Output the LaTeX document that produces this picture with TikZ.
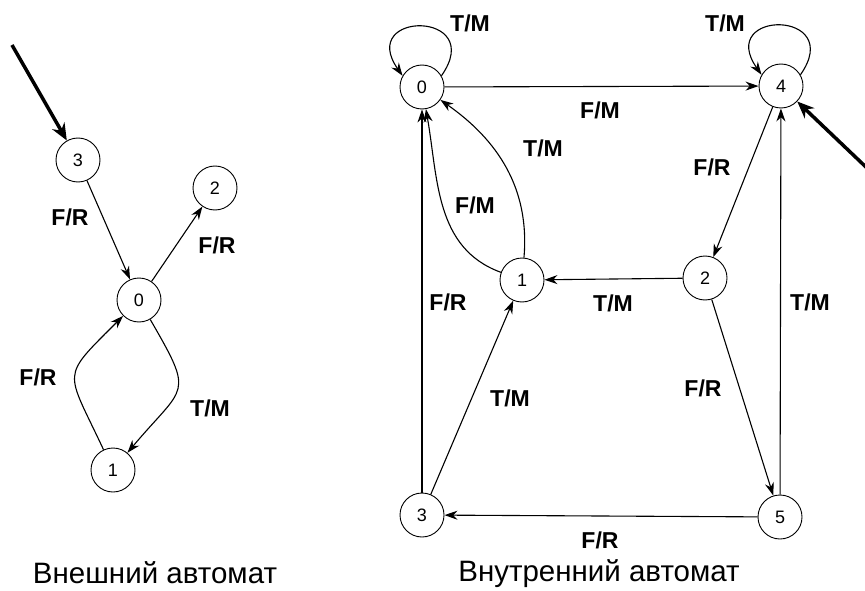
\documentclass[tikz,border=0pt]{standalone}
\usepackage{fontspec}
\setmainfont{Liberation Sans}
\usetikzlibrary{arrows.meta}
\begin{document}
\begin{tikzpicture}[x=1pt, y=1pt, line width=1.1pt,
		state/.style={draw, circle, minimum size=44pt, inner sep=0pt, line width=0.9pt, font=\fontsize{18}{18}\selectfont},
		lbl/.style={font=\bfseries\fontsize{23}{23}\selectfont, inner sep=0pt},
		heading/.style={font=\fontsize{29.5}{29.5}\selectfont, inner sep=0pt},
		trans/.style={-{Stealth[length=13pt, width=9pt]}},
		initarr/.style={line width=3.5pt, -{Stealth[length=17pt, width=14pt]}}]
		\useasboundingbox (0,0) rectangle (865,-591);
		
		%outer automaton
		\foreach \n/\x/\y in {3/78/160, 2/215/188, 0/139/300, 1/113/470}{
			\node[state] (l\n) at (\x,-\y) {\n};
		}
		\coordinate (lin) at (12,-45);
		\draw[initarr] (lin) -- (l3);
		\draw[trans] (l3) -- (l0);
		\draw[trans] (l0) -- (l2);
		\draw[trans] (l1) to[out=115, in=225, looseness=1.7] (l0);
		\draw[trans] (l0) to[out=-60, in=50, looseness=1.7] (l1);
		\node[lbl] (la) at (70,-217){F/R};
		\node[lbl] (lb) at (217,-245){F/R};
		\node[lbl] (lc) at (38,-377){F/R};
		\node[lbl] (ld) at (210,-408){T/M};
		\node[heading] (lname) at (155,-573){Внешний автомат};
		
		%inner automaton
		\foreach \n/\x/\y in {0/422/87, 4/781/86, 1/522/280, 2/705/278, 3/422/515, 5/780/517}{
			\node[state] (r\n) at (\x,-\y) {\n};
		}
		\coordinate (rin) at (868,-169);
		\draw[initarr] (rin) -- (r4);
		\draw[trans] (r0.30) .. controls +(55:80) and +(125:80) .. (r0.150);
		\draw[trans] (r4.30) .. controls +(55:80) and +(125:80) .. (r4.150);
		\draw[trans] (r0) -- (r4);
		\draw[trans] (r1) to[out=85, in=-35] (r0);
		\draw[trans] (r1) to[out=160, in=-80] (r0);
		\draw[trans] (r3) -- (r0);
		\draw[trans] (r4) -- (r2);
		\draw[trans] (r2) -- (r1);
		\draw[trans] (r3) -- (r1);
		\draw[trans] (r2) -- (r5);
		\draw[trans] (r5) -- (r4);
		\draw[trans] (r5) -- (r3);
		\node[lbl] (ra) at (470,-23){T/M};
		\node[lbl] (rb) at (725,-23){T/M};
		\node[lbl] (rc) at (600,-110){F/M};
		\node[lbl] (rd) at (543,-148){T/M};
		\node[lbl] (re) at (475,-205){F/M};
		\node[lbl] (rf) at (712,-167){F/R};
		\node[lbl] (rg) at (448,-302){F/R};
		\node[lbl] (rh) at (613,-303){T/M};
		\node[lbl] (ri) at (810,-302){T/M};
		\node[lbl] (rj) at (510,-398){T/M};
		\node[lbl] (rk) at (703,-388){F/R};
		\node[lbl] (rl) at (600,-540){F/R};
		\node[heading] (rname) at (599,-574){Внутренний автомат};
\end{tikzpicture}
\end{document}
